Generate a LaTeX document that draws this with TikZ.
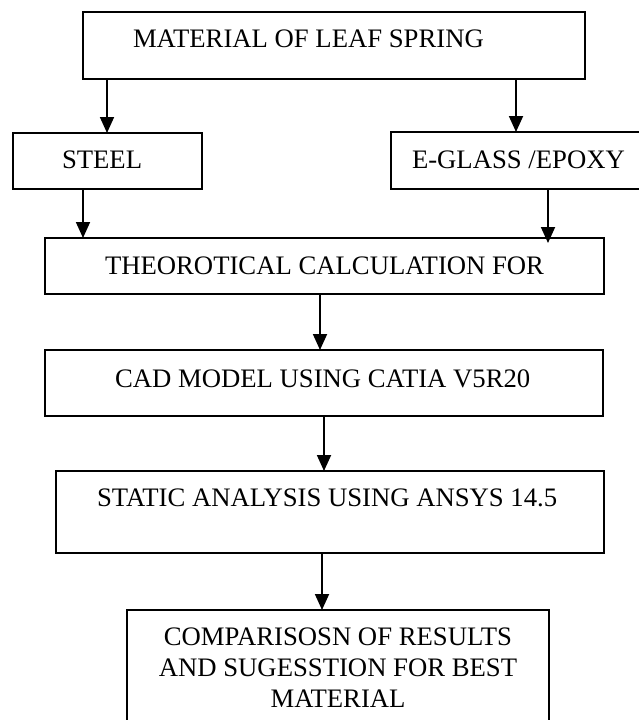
\documentclass[tikz,border=0pt]{standalone}
\usepackage{fontspec}
\setmainfont{Liberation Serif}
\usetikzlibrary{arrows.meta}

\tikzset{
  box/.style={draw=black, line width=1.1pt, inner sep=0pt, outer sep=0pt, fill=none},
  lbl/.style={inner sep=0pt, outer sep=0pt, font=\fontsize{26.7}{31}\selectfont},
  arr/.style={line width=1.8pt, -{Triangle[width=14pt,length=16pt]}},
}

\begin{document}
\begin{tikzpicture}[x=1pt, y=-1pt]
  \useasboundingbox (0,0) rectangle (638,720);

  % process boxes (centre, width, height)
  \node[box, minimum width=502pt, minimum height=67pt] (m)   at (334,45.5)  {};
  \node[box, minimum width=189pt, minimum height=56pt] (st)  at (107.5,161) {};
  \node[box, minimum width=249pt, minimum height=57pt] (eg)  at (515.5,160.5) {};
  \node[box, minimum width=559pt, minimum height=56pt] (th)  at (324.5,266) {};
  \node[box, minimum width=558pt, minimum height=66pt] (cad) at (324,383) {};
  \node[box, minimum width=548pt, minimum height=82pt] (sa)  at (330,512) {};
  \node[box, minimum width=422pt, minimum height=124pt] (cmp) at (338,672) {};

  % box texts
  \node[lbl, anchor=base west] (tm)  at (133,47)  {MATERIAL OF LEAF SPRING};
  \node[lbl, anchor=base west] (tst) at (62,168)  {STEEL};
  \node[lbl, anchor=base west] (teg) at (412,168) {E-GLASS /EPOXY};
  \node[lbl, anchor=base west] (tth) at (105,274) {THEOROTICAL CALCULATION FOR};
  \node[lbl, anchor=base west] (tcad) at (115,387) {CAD MODEL USING CATIA V5R20};
  \node[lbl, anchor=base west] (tsa) at (97,506)  {STATIC ANALYSIS USING ANSYS 14.5};
  % three centred lines; the base anchor sits on the last line
  \node[lbl, anchor=base, align=center] (tcmp) at (338,707)
       {COMPARISOSN OF RESULTS\\AND SUGESSTION FOR BEST\\MATERIAL};

  % connectors
  \draw[arr] ([xshift=24pt]m.south west) -- ([xshift=24pt]m.south west |- st.north);
  \draw[arr] ([xshift=433pt]m.south west) -- ([xshift=433pt]m.south west |- eg.north);
  \draw[arr] ([xshift=70pt]st.south west) -- ([xshift=70pt]st.south west |- th.north);
  \draw[arr] ([xshift=157pt]eg.south west) -- ([xshift=157pt,yshift=-5pt]eg.south west |- th.north);
  \draw[arr] ([xshift=275pt]th.south west) -- ([xshift=275pt]th.south west |- cad.north);
  \draw[arr] ([xshift=279pt]cad.south west) -- ([xshift=279pt]cad.south west |- sa.north);
  \draw[arr] ([xshift=266pt]sa.south west) -- ([xshift=266pt]sa.south west |- cmp.north);
\end{tikzpicture}
\end{document}
